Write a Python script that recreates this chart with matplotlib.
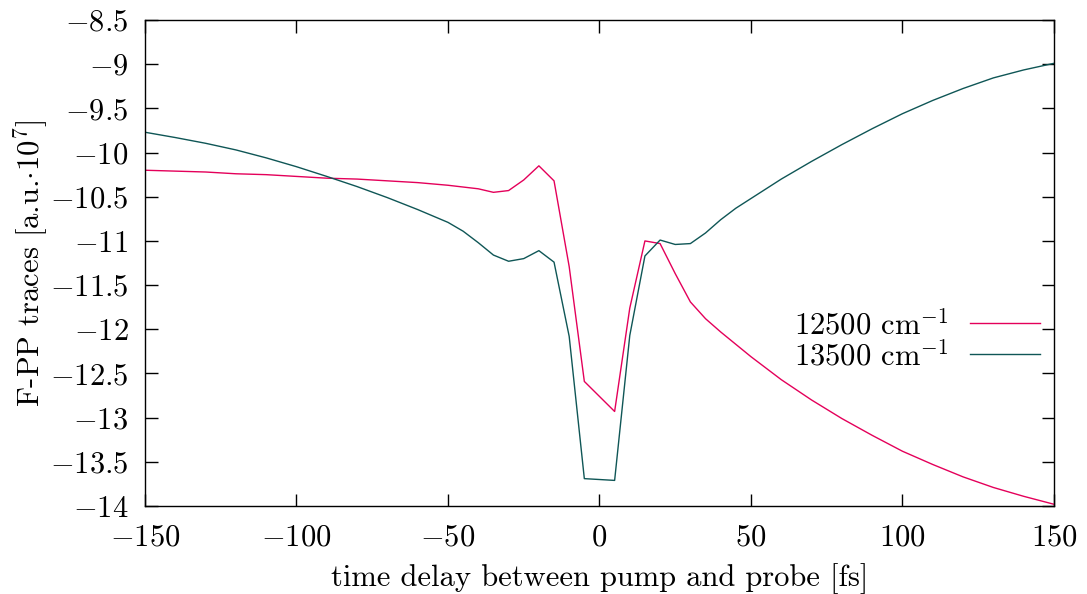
import matplotlib
matplotlib.use("Agg")
import matplotlib.pyplot as plt
from matplotlib.ticker import FuncFormatter, MultipleLocator

plt.rcParams["font.family"] = "cmr10"
plt.rcParams["mathtext.fontset"] = "cm"
plt.rcParams["axes.formatter.use_mathtext"] = True
plt.rcParams["axes.unicode_minus"] = True

# time delay [fs]
delay = [-150, -140, -130, -120, -110, -100, -90, -80, -70, -60, -50,
         -45, -40, -35, -30, -25, -20, -15, -10, -5,
         5, 10, 15, 20, 25, 30, 35, 40, 45, 50,
         60, 70, 80, 90, 100, 110, 120, 130, 140, 150]

# F-PP traces [a.u. * 1e7]
trace_12500 = [-10.20, -10.21, -10.22, -10.24, -10.25, -10.27, -10.29, -10.30, -10.32, -10.34, -10.37,
               -10.39, -10.41, -10.45, -10.43, -10.31, -10.15, -10.32, -11.29, -12.59,
               -12.93, -11.76, -11.00, -11.03, -11.37, -11.69, -11.88, -12.03, -12.17, -12.31,
               -12.57, -12.80, -13.01, -13.20, -13.38, -13.53, -13.67, -13.79, -13.89, -13.98]
trace_13500 = [-9.77, -9.83, -9.895, -9.97, -10.06, -10.16, -10.27, -10.385, -10.51, -10.645, -10.79,
               -10.89, -11.02, -11.16, -11.23, -11.20, -11.11, -11.24, -12.08, -13.69,
               -13.71, -12.07, -11.17, -10.99, -11.04, -11.03, -10.91, -10.76, -10.63, -10.52,
               -10.30, -10.10, -9.91, -9.73, -9.56, -9.41, -9.275, -9.155, -9.065, -8.99]

labels = [r"12500 cm$^{-1}$", r"13500 cm$^{-1}$"]
colors = ["#e4005a", "#0f5656"]

fig = plt.figure(figsize=(10.87, 5.94), dpi=100)
ax = fig.add_axes([0.1334, 0.1481, 0.8362, 0.8182])

ax.plot(delay, trace_12500, color=colors[0], lw=1.0, label=labels[0])
ax.plot(delay, trace_13500, color=colors[1], lw=1.0, label=labels[1])

ax.set_xlim(-150, 150)
ax.set_ylim(-14, -8.5)
ax.xaxis.set_major_locator(MultipleLocator(50))
ax.yaxis.set_major_locator(MultipleLocator(0.5))
fmt = FuncFormatter(lambda v, _: f"${v:g}$")
ax.xaxis.set_major_formatter(fmt)
ax.yaxis.set_major_formatter(fmt)

ax.tick_params(direction="in", length=9, width=1.0, top=True, right=True,
               labelsize=22)
ax.tick_params(axis="x", pad=13)
ax.tick_params(axis="y", pad=12)
for s in ax.spines.values():
    s.set_linewidth(1.0)

ax.set_xlabel("time delay between pump and probe [fs]", fontsize=22, labelpad=8)
ax.set_ylabel(r"F-PP traces [a.u.$\cdot$10$^{7}$]", fontsize=22, labelpad=0)

ax.legend(loc="center right", bbox_to_anchor=(0.9846, 0.342), frameon=False,
          markerfirst=False, fontsize=22, handlelength=2.3, handletextpad=0.7,
          labelspacing=0.0, borderaxespad=0, borderpad=0)

fig.savefig("out.png", dpi=100)
